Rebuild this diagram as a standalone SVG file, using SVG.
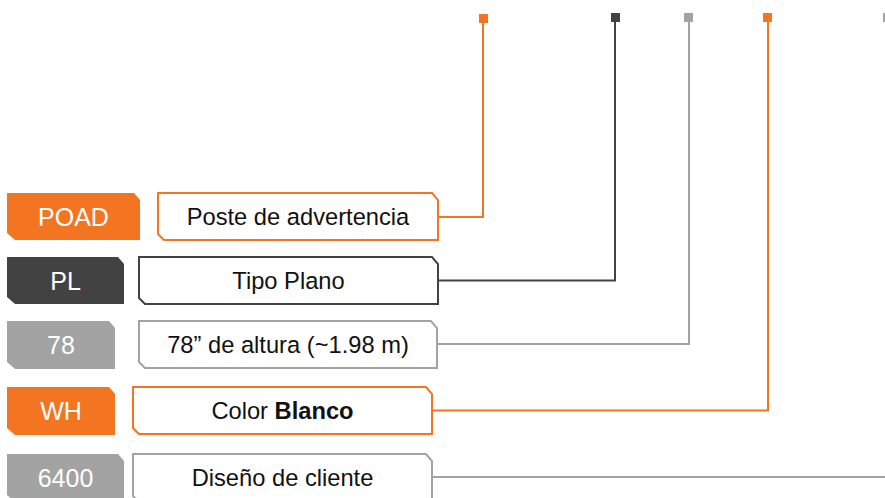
<svg xmlns="http://www.w3.org/2000/svg" width="885" height="498" viewBox="0 0 885 498">
<style>
  .tag-t { font-family: "Liberation Sans", Arial, sans-serif; font-size: 25px; fill: #ffffff; text-anchor: middle; }
  .desc-t { font-family: "Liberation Sans", Arial, sans-serif; font-size: 23.7px; fill: #111111; text-anchor: middle; }
  .box { fill: #ffffff; stroke-width: 2; }
  .conn { fill: none; stroke-width: 2; }
  .or { stroke: #F47521; }
  .dk { stroke: #424242; }
  .gr { stroke: #A3A3A3; }
</style>
<rect width="885" height="498" fill="#ffffff"/>
<g id="connectors">
  <path class="conn or" d="M438,217 H483 V18"/>
  <path class="conn dk" d="M438,280.5 H615 V18"/>
  <path class="conn gr" d="M437,344 H689 V18"/>
  <path class="conn or" d="M432,410.5 H768 V18"/>
  <path class="conn gr" d="M432,477 H885"/>
  <rect x="479" y="14" width="9" height="9" fill="#F47521"/>
  <rect x="611" y="13" width="9" height="9" fill="#424242"/>
  <rect x="684" y="13" width="9" height="9" fill="#A3A3A3"/>
  <rect x="763" y="13" width="9" height="9" fill="#F47521"/>
  <rect x="883" y="13" width="9" height="9" fill="#A3A3A3"/>
</g>
<g id="row-poad">
  <path d="M7,193 H134 L140,200 V240 H15 L7,233 Z" fill="#F47521"/>
  <text class="tag-t" x="73.5" y="226">POAD</text>
  <path class="box or" d="M158,193 H432 L438,200 V240 H164 L158,234 Z"/>
  <text class="desc-t" x="298" y="225">Poste de advertencia</text>
</g>
<g id="row-pl">
  <path d="M7,257 H118 L124,264 V304 H15 L7,297 Z" fill="#424242"/>
  <text class="tag-t" x="65.5" y="290">PL</text>
  <path class="box dk" d="M139,257 H432 L438,264 V304 H145 L139,298 Z"/>
  <text class="desc-t" x="288.5" y="289">Tipo Plano</text>
</g>
<g id="row-78">
  <path d="M7,321 H109 L115,328 V369 H15 L7,362 Z" fill="#A3A3A3"/>
  <text class="tag-t" x="61" y="354">78</text>
  <path class="box gr" d="M139,321 H431 L437,328 V368 H145 L139,362 Z"/>
  <text class="desc-t" x="288" y="353">78” de altura (~1.98 m)</text>
</g>
<g id="row-wh">
  <path d="M7,387 H109 L115,394 V435 H15 L7,428 Z" fill="#F47521"/>
  <text class="tag-t" x="61" y="420">WH</text>
  <path class="box or" d="M133,387 H426 L432,394 V434 H139 L133,428 Z"/>
  <text class="desc-t" x="282.5" y="419">Color <tspan font-weight="bold">Blanco</tspan></text>
</g>
<g id="row-6400">
  <path d="M7,454 H118 L124,461 V502 H15 L7,495 Z" fill="#A3A3A3"/>
  <text class="tag-t" x="65.5" y="487">6400</text>
  <path class="box gr" d="M133,454 H426 L432,461 V502 H139 L133,496 Z"/>
  <text class="desc-t" x="282.5" y="486">Diseño de cliente</text>
</g>
</svg>
